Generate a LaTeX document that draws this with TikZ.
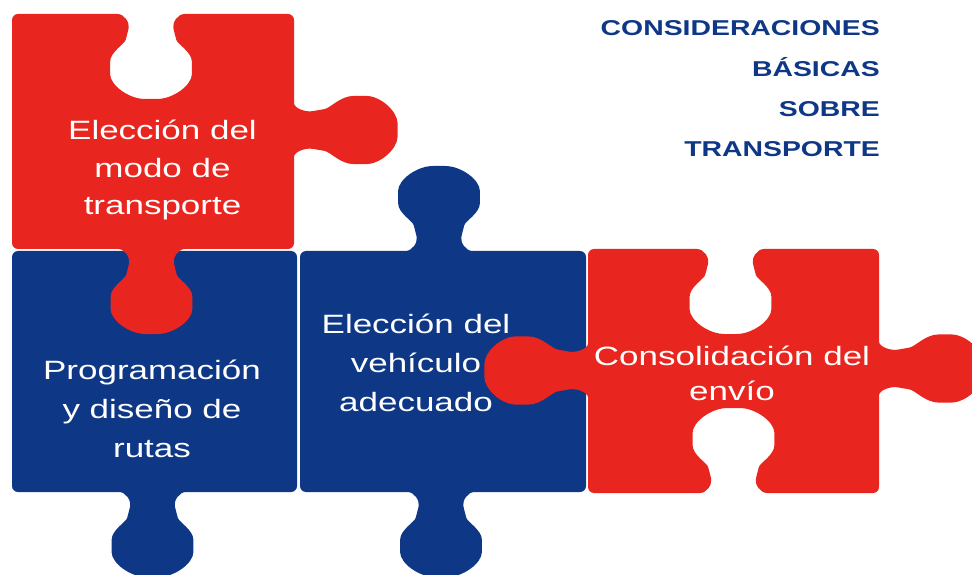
\documentclass[tikz,border=0pt]{standalone}
\usepackage{fontspec}
\newfontfamily\pzfont[FakeStretch=1.32]{Liberation Sans}
\definecolor{pzred}{RGB}{232,37,30}
\definecolor{pzblue}{RGB}{14,56,134}
% knob: centre x, centre y, rotation, along-scale, depth-scale (negative = hole)
\newcommand\pzknob[5]{{[shift={(#1,#2)},rotate=#3,xscale=#4,yscale=#5]
  -- (-30,0) .. controls (-20,0) and (-16,9) .. (-18,20)
  .. controls (-20,30) and (-31,38) .. (-31,54)
  .. controls (-31,71) and (-17,85) .. (0,85)
  .. controls (17,85) and (31,71) .. (31,54)
  .. controls (31,38) and (20,30) .. (18,20)
  .. controls (16,9) and (20,0) .. (30,0)}}
\tikzset{
  piece/.style={rounded corners=6pt},
  redpiece/.style={piece, fill=pzred},
  bluepiece/.style={piece, fill=pzblue},
  ptext/.style={anchor=base, inner sep=0pt, text=white,
    font=\pzfont\fontsize{26.5}{#1}\selectfont},
  ttext/.style={anchor=base east, inner sep=0pt, text=pzblue,
    font=\pzfont\bfseries\fontsize{21.5}{40.2}\selectfont}
}
\begin{document}
\begin{tikzpicture}[x=1pt,y=1pt]
\useasboundingbox (0,0) rectangle (972,574);
\clip (0,0) rectangle (972,574);
% B
\path[bluepiece] (12,323) -- (297,323) -- (297,82)
  \pzknob{152.5}{82}{180}{1.32}{1} -- (12,82) -- cycle;
% C
\path[bluepiece] (300,323) \pzknob{439}{323}{0}{1.32}{1} -- (586,323) -- (586,82)
  \pzknob{441}{82}{180}{1.32}{1} -- (300,82) -- cycle;
% A
\path[redpiece] (12,560) \pzknob{151}{560}{0}{1.32}{-1} -- (294,560)
  \pzknob{294}{444}{-90}{1.1}{1.22} -- (294,325)
  \pzknob{151.5}{325}{180}{1.32}{1} -- (12,325) -- cycle;
% D
\path[redpiece] (588,325) \pzknob{730.5}{325}{0}{1.32}{-1} -- (879,325)
  \pzknob{879}{205.5}{-90}{1.1}{1.22} -- (879,81)
  \pzknob{733.5}{81}{180}{1.32}{-1} -- (588,81)
  \pzknob{588}{203.5}{90}{1.1}{1.22} -- cycle;
% texts
\node[ptext=37.5] (tA) at (162.5,434) {\begin{tabular}[t]{@{}c@{}}Elección del\\modo de\\transporte\end{tabular}};
\node[ptext=39] (tB) at (152,195) {\begin{tabular}[t]{@{}c@{}}Programación\\y diseño de\\rutas\end{tabular}};
\node[ptext=39] (tC) at (416,241) {\begin{tabular}[t]{@{}c@{}}Elección del\\vehículo\\adecuado\end{tabular}};
\node[ptext=35] (tD) at (732,209) {\begin{tabular}[t]{@{}c@{}}Consolidación del\\envío\end{tabular}};
\node[ttext] (title) at (880,538) {\begin{tabular}[t]{@{}r@{}}CONSIDERACIONES\\BÁSICAS\\SOBRE\\TRANSPORTE\end{tabular}};
\end{tikzpicture}
\end{document}
